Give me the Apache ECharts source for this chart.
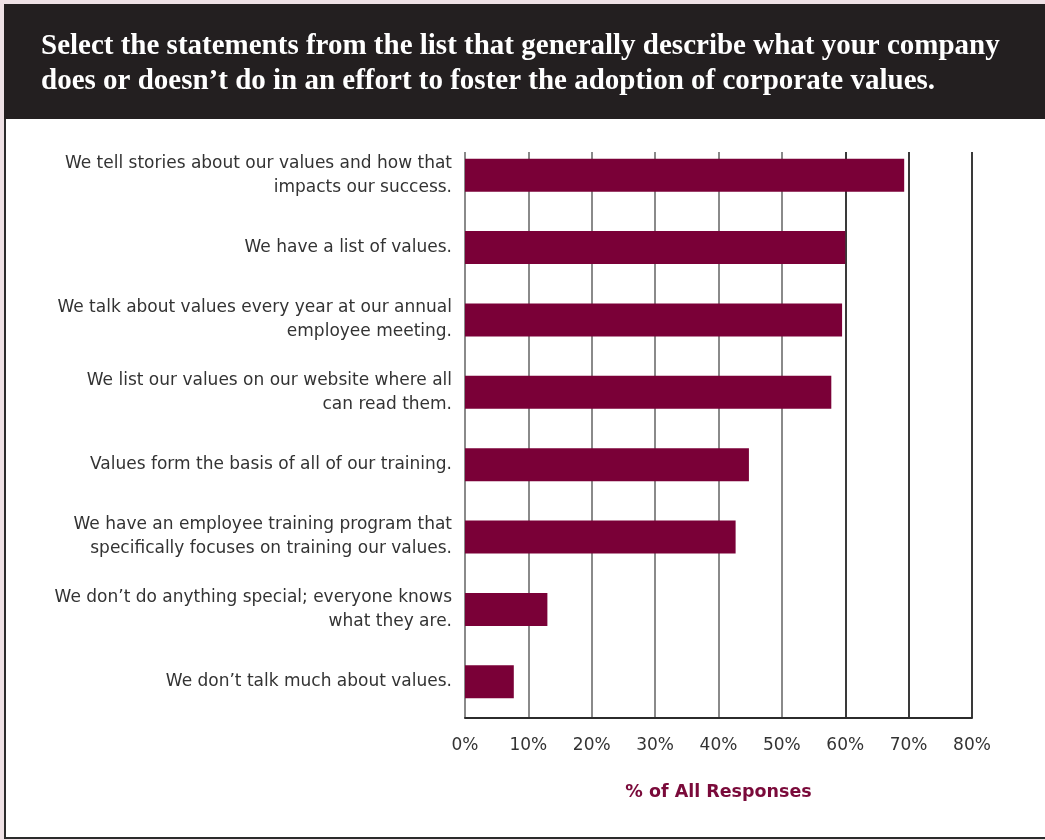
<!DOCTYPE html>
<html>
<head>
<meta charset="utf-8">
<script src="https://cdn.jsdelivr.net/npm/echarts@6/dist/echarts.min.js"></script>
<style>
html,body{margin:0;padding:0;background:#efe1e5;}
#chart{width:1045px;height:840px;}
</style>
</head>
<body>
<div id="chart"></div>
<script>
const titleLines = [
  "Select the statements from the list that generally describe what your company",
  "does or doesn\u2019t do in an effort to foster the adoption of corporate values."
];
const categories = [
  "We tell stories about our values and how that\nimpacts our success.",
  "We have a list of values.",
  "We talk about values every year at our annual\nemployee meeting.",
  "We list our values on our website where all\ncan read them.",
  "Values form the basis of all of our training.",
  "We have an employee training program that\nspecifically focuses on training our values.",
  "We don\u2019t do anything special; everyone knows\nwhat they are.",
  "We don\u2019t talk much about values."
];
const values = [69.3, 60, 59.5, 57.8, 44.8, 42.7, 13, 7.7];
const axisMin = 0, axisMax = 80, axisStep = 10;
const axisTitle = "% of All Responses";

const chart = echarts.init(document.getElementById('chart'), null, {renderer: 'canvas'});
const option = {
  backgroundColor: '#efe1e5',
  animation: false,
  graphic: [
    {type: 'rect', z: -10, shape: {x: 5, y: 5, width: 1050, height: 833}, style: {fill: '#ffffff', stroke: '#2b2b2b', lineWidth: 2}},
    {type: 'rect', z: -9, shape: {x: 4, y: 4, width: 1045, height: 115}, style: {fill: '#231f20'}}
  ],
  title: {
    text: titleLines.join('\n'),
    left: 36, top: 24,
    textStyle: {color: '#ffffff', fontFamily: 'Liberation Serif', fontWeight: 'bold', fontSize: 29, lineHeight: 35}
  },
  grid: [
    {left: 465, top: 139, width: 507, height: 579},
    {left: 465, top: 152, width: 507, height: 566}
  ],
  xAxis: [
    {gridIndex: 0, type: 'value', min: axisMin, max: axisMax, interval: axisStep, show: false},
    {gridIndex: 1, type: 'value', min: axisMin, max: axisMax, interval: axisStep,
     axisLine: {show: true, lineStyle: {color: '#2b2b2b', width: 2}},
     axisTick: {show: false},
     splitLine: {show: true, lineStyle: {color: ['#8a8a8a','#8a8a8a','#8a8a8a','#8a8a8a','#8a8a8a','#8a8a8a','#3a3a3a','#3a3a3a','#3a3a3a'], width: 2}},
     axisLabel: {formatter: '{value}%', color: '#333333', fontFamily: 'DejaVu Sans', fontSize: 17, margin: 19},
     name: axisTitle, nameLocation: 'middle', nameGap: 65,
     nameTextStyle: {color: '#7a0a3a', fontFamily: 'DejaVu Sans', fontWeight: 'bold', fontSize: 17.5}
    }
  ],
  yAxis: [
    {gridIndex: 0, type: 'category', data: categories, inverse: true,
     axisLine: {show: false}, axisTick: {show: false}, splitLine: {show: false},
     axisLabel: {color: '#333333', fontFamily: 'DejaVu Sans', fontSize: 17, lineHeight: 24, margin: 13, align: 'right'}
    },
    {gridIndex: 1, type: 'value', show: false}
  ],
  series: [
    {type: 'bar', xAxisIndex: 0, yAxisIndex: 0, data: values, barWidth: 33,
     itemStyle: {color: '#7a0037'}, z: 5}
  ]
};
chart.setOption(option);
</script>
</body>
</html>
